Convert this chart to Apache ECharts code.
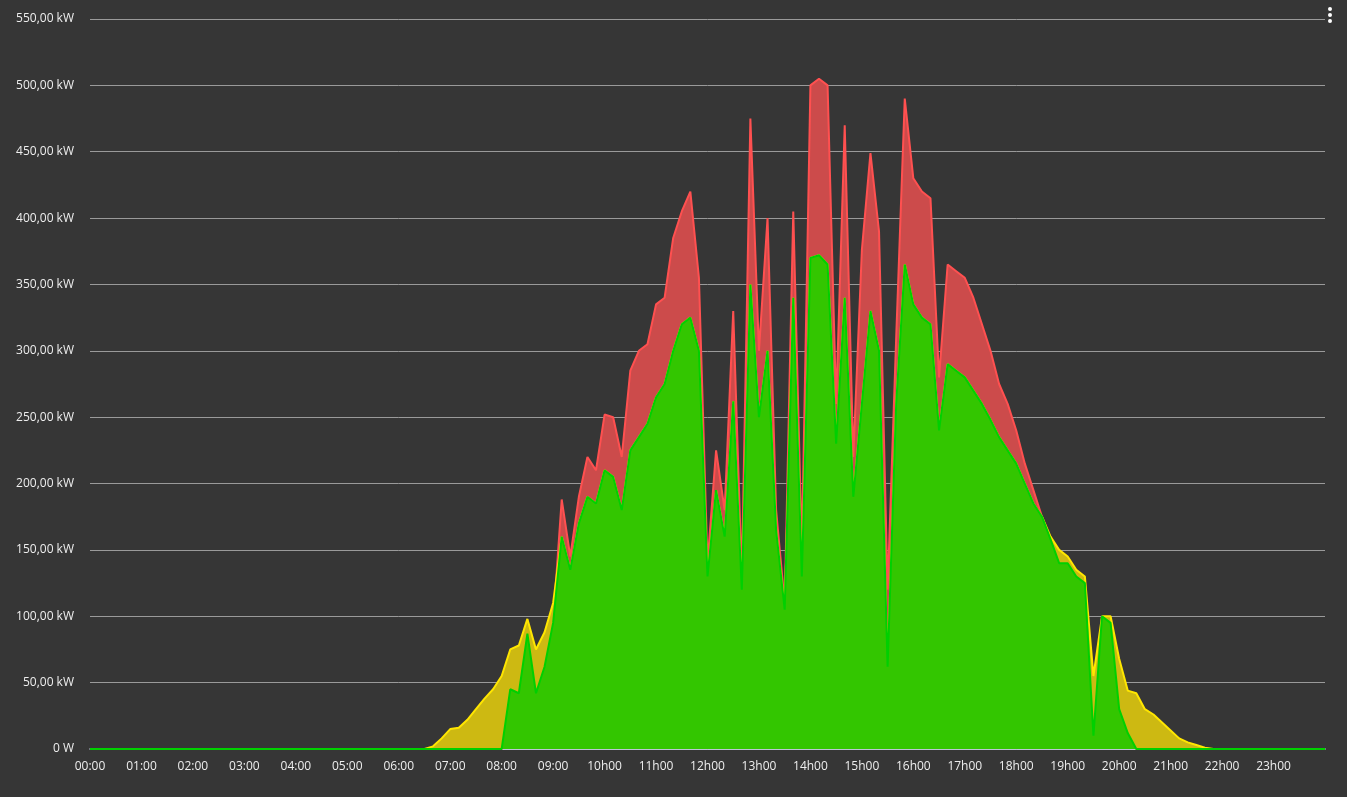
<!DOCTYPE html>
<html><head><meta charset="utf-8">
<script src="https://cdn.jsdelivr.net/npm/echarts@6/dist/echarts.min.js"></script>
<style>html,body{margin:0;padding:0;background:#363636;}#c{width:1347px;height:797px;}</style>
</head><body><div id="c"></div>
<script>
// values start at 06:30, every 10 minutes
const startTime = "06:30";
const yellow = [0,2,8,15,16,22,30,38,45,55,75,78,98,75,88,110,
160,135,170,190,185,210,205,180,225,235,245,265,275,300,320,325,300,130,195,160,262,120,350,250,300,165,105,340,130,370,372,365,230,340,190,260,330,300,62,260,365,335,325,320,240,290,285,280,270,260,248,235,225,215,200,185,175,
160,150,145,135,130,55,100,100,68,44,42,30,26,20,14,8,5,3,1,0];
const red = [0,0,0,0,0,0,0,0,0,0,45,42,87,42,62,95,
188,145,190,220,210,252,250,220,285,300,305,335,340,385,405,420,355,140,225,180,330,130,475,300,400,180,110,405,150,500,505,500,260,470,220,376,449,390,120,310,490,430,420,415,280,365,360,355,340,320,300,275,260,240,215,195,175,
158,140,140,130,125,10,100,95,30,12,0,0,0,0,0,0,0,0,0,0];
const green = [0,0,0,0,0,0,0,0,0,0,45,42,87,42,62,95,
160,135,170,190,185,210,205,180,225,235,245,265,275,300,320,325,300,130,195,160,262,120,350,250,300,165,105,340,130,370,372,365,230,340,190,260,330,300,62,260,365,335,325,320,240,290,285,280,270,260,248,235,225,215,200,185,175,
158,140,140,130,125,10,100,95,30,12,0,0,0,0,0,0,0,0,0,0];
const yTicks = [0,50,100,150,200,250,300,350,400,450,500,550];

function toPairs(arr){
  const [h,m] = startTime.split(':').map(Number);
  const s = h + m/60;
  const out = [[0,0],[s-1/6,0]];
  arr.forEach((v,i)=>out.push([s+i/6, v]));
  out.push([24,0]);
  return out;
}
function ser(name, arr, line, fill, z){
  return {name, type:'line', data:toPairs(arr), symbol:'none', z,
    lineStyle:{color:line,width:2}, itemStyle:{color:line},
    areaStyle:{color:fill,opacity:1}};
}
const chart = echarts.init(document.getElementById('c'));
chart.setOption({
  backgroundColor:'#363636',
  animation:false,
  grid:{left:90,right:22,top:19,bottom:48},
  xAxis:{type:'value',min:0,max:24,interval:1,
    axisLine:{lineStyle:{color:'#c8d4ea',width:1.5}},axisTick:{show:false},splitLine:{show:false},
    axisLabel:{color:'#eeeeee',fontSize:12,fontFamily:'Open Sans',margin:12,
      formatter:v=>v>=24?'':(v<10?('0'+v+':00'):(v+'h00'))}},
  yAxis:{type:'value',min:0,max:550,interval:50,
    axisLine:{show:false},axisTick:{show:false},
    splitLine:{lineStyle:{color:'#9a9a9a',width:1}},
    axisLabel:{color:'#eeeeee',fontSize:12,fontFamily:'Open Sans',margin:16,
      formatter:v=>yTicks.includes(v)?(v===0?'0 W':v.toFixed(2).replace('.',',')+' kW'):''}},
  series:[
    ser('red',red,'#ff5050','#cc4b4b',1),
    ser('yellow',yellow,'#ffe600','#cdb912',2),
    ser('green',green,'#00d000','#33c600',3)
  ],
  graphic:[
    {type:'circle',shape:{cx:1330,cy:9,r:2},style:{fill:'#fff'}},
    {type:'circle',shape:{cx:1330,cy:15,r:2},style:{fill:'#fff'}},
    {type:'circle',shape:{cx:1330,cy:21,r:2},style:{fill:'#fff'}}
  ]
});
</script></body></html>
